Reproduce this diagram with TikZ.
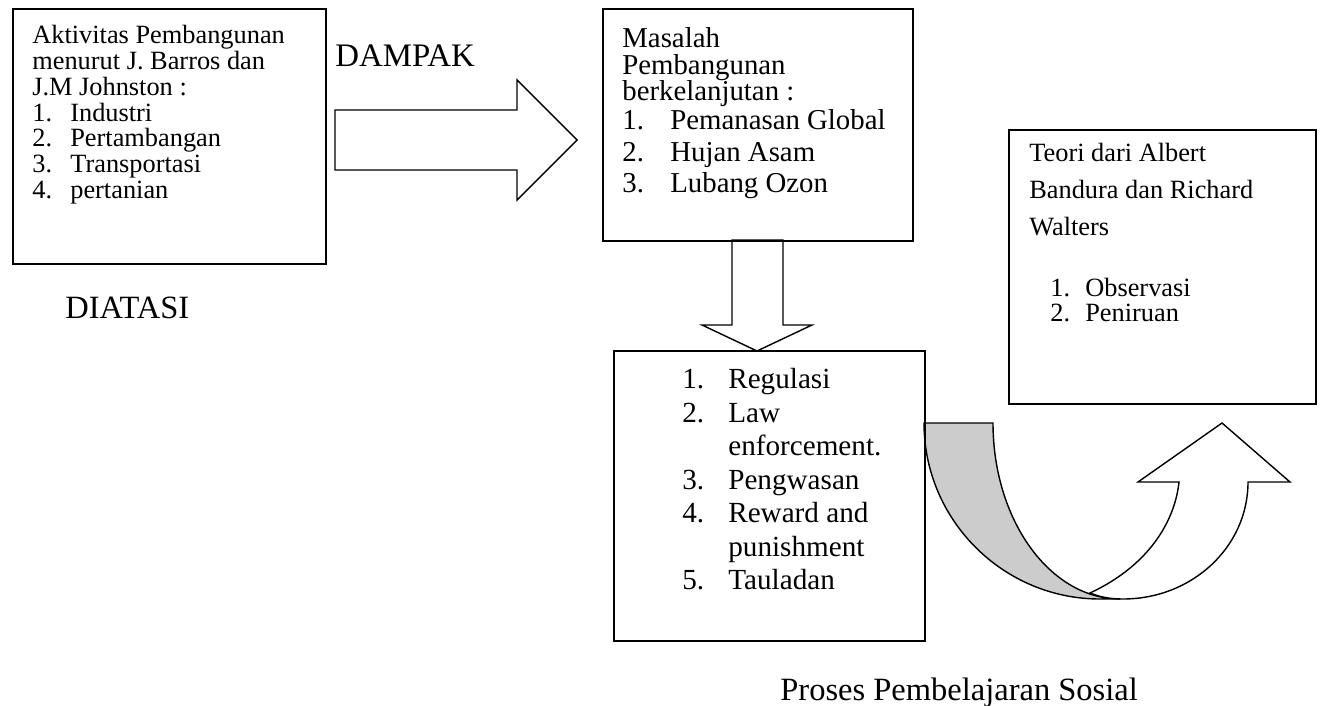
\documentclass[tikz,border=0pt]{standalone}
\usepackage{fontspec}
\setmainfont{Liberation Serif}
\usetikzlibrary{calc,positioning}
\tikzset{
%Define style for the boxes and their texts
box/.style={draw, line width=1.1pt, rectangle, inner sep=0pt, anchor=north west},
boxtext/.style={anchor=north west, inner sep=0pt, align=left},
free text/.style={anchor=base west, inner sep=0pt},
%Define style for the big arrows
block arrow/.style={draw, line width=0.8pt, fill=white, line join=miter},
}
\newcommand\nitem[3]{\makebox[#1][l]{#2}#3}

\begin{document}
\begin{tikzpicture}[x=0.02cm, y=-0.02cm]
    \useasboundingbox (0,0) rectangle (1322,706);
    %Big arrows
    \coordinate (dampak tip) at (577,140);
    \draw[block arrow] (335,110) -- (517,110) -- (517,80) -- (dampak tip)
      -- (517,200) -- (517,170) -- (335,170) -- cycle;
    \coordinate (turun tip) at (757,351);
    \draw[block arrow] (732,240) -- (783,240) -- (783,325) -- (812,325)
      -- (turun tip) -- (702,325) -- (732,325) -- cycle;
    %Curved arrow, grey back side first
    \draw[line width=0.8pt, fill=gray!40] (924,423) -- (993,423)
      .. controls (993,520) and (1050,599) .. (1120,599) -- (1100,599)
      .. controls (1003,599) and (924,520) .. (924,423) -- cycle;
    \draw[block arrow] (1090,593) .. controls (1150,565) and (1175,520) .. (1179,482)
      -- (1138,482) -- (1222,423) -- (1290,482) -- (1248,482)
      .. controls (1248,547) and (1192,599) .. (1123,599)
      .. controls (1110,599) and (1100,597) .. (1090,593) -- cycle;

    %Boxes
    \node[box, minimum width=6.26cm, minimum height=5.10cm] (aktivitas) at (12,8) {};
    \node[box, minimum width=6.20cm, minimum height=4.64cm] (masalah) at (602,8) {};
    \node[box, minimum width=6.22cm, minimum height=5.80cm] (tindakan) at (613,350) {};
    \node[box, minimum width=6.14cm, minimum height=5.48cm] (teori) at (1008,129) {};

    %Texts of the boxes
    \node[boxtext, font=\fontsize{15}{14.7}\selectfont] (aktivitas text) at (32,25)
      {Aktivitas Pembangunan\\
       menurut J. Barros dan\\
       J.M Johnston :\\
       \nitem{0.76cm}{1.}{Industri}\\
       \nitem{0.76cm}{2.}{Pertambangan}\\
       \nitem{0.76cm}{3.}{Transportasi}\\
       \nitem{0.76cm}{4.}{pertanian}};
    \node[boxtext, font=\fontsize{16.4}{15.2}\selectfont] (masalah text) at (622,27)
      {Masalah\\
       Pembangunan\\
       berkelanjutan :\\[1.4pt]
       \nitem{0.96cm}{1.}{Pemanasan Global}\\[2.6pt]
       \nitem{0.96cm}{2.}{Hujan Asam}\\[2.6pt]
       \nitem{0.96cm}{3.}{Lubang Ozon}};
    \node[boxtext, font=\fontsize{16.6}{19.1}\selectfont] (tindakan text) at (682,368)
      {\nitem{0.92cm}{1.}{Regulasi}\\
       \nitem{0.92cm}{2.}{Law}\\
       \hspace*{0.92cm}enforcement.\\
       \nitem{0.92cm}{3.}{Pengwasan}\\
       \nitem{0.92cm}{4.}{Reward and}\\
       \hspace*{0.92cm}punishment\\
       \nitem{0.92cm}{5.}{Tauladan}};
    \node[boxtext, font=\fontsize{15}{21}\selectfont] (teori text) at (1029,143)
      {Teori dari Albert\\
       Bandura dan Richard\\
       Walters\\[13.6pt]
       \hspace*{0.42cm}\nitem{0.70cm}{1.}{Observasi}\\[-6.8pt]
       \hspace*{0.42cm}\nitem{0.70cm}{2.}{Peniruan}};

    %Free labels
    \node[free text, font=\fontsize{18.7}{22}\selectfont] (dampak) at (335,67) {DAMPAK};
    \node[free text, font=\fontsize{18.5}{22}\selectfont] (diatasi) at (65,318) {DIATASI};
    \node[free text, font=\fontsize{18.5}{22}\selectfont] (proses) at (780,700) {Proses Pembelajaran Sosial};
\end{tikzpicture}
\end{document}
